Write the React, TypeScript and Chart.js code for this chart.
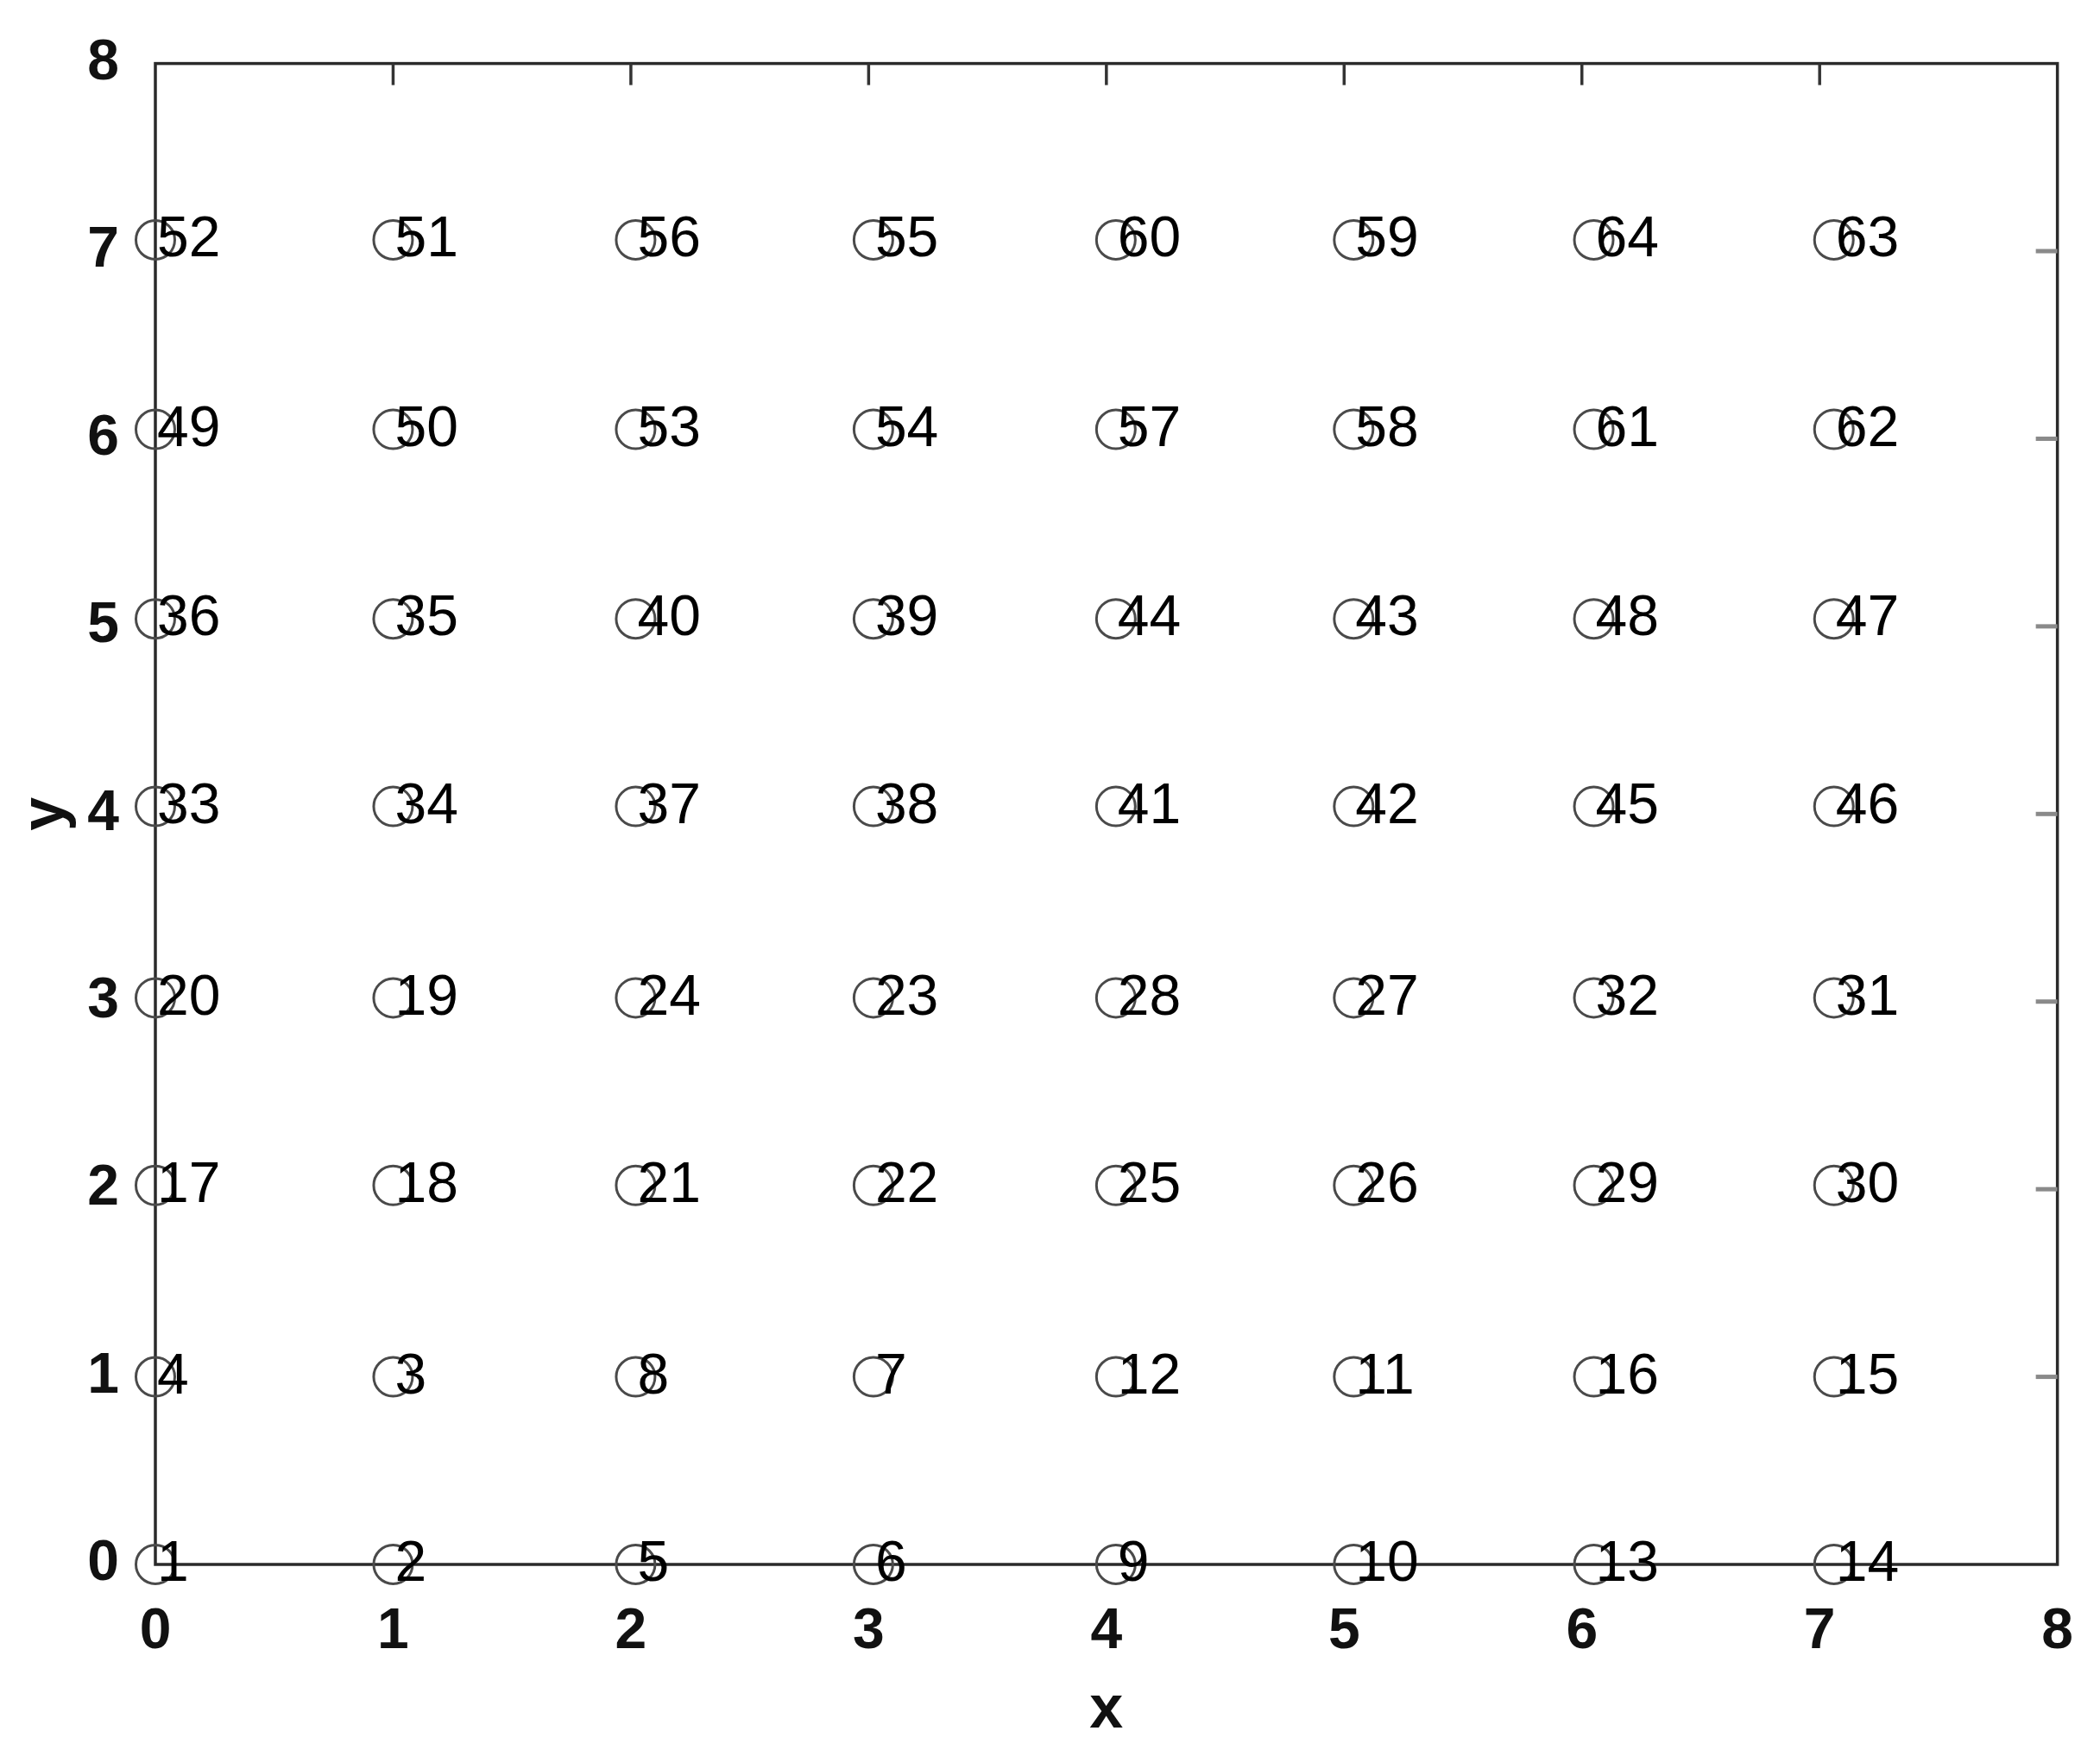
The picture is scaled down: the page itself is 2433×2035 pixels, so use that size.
import React, { useEffect, useRef } from 'react';
import { Chart, registerables } from 'chart.js';

Chart.register(...registerables);

// Column x positions and row y positions of the nodes
const colX = [0, 1, 2.02, 3.02, 4.04, 5.04, 6.05, 7.06];
const rowY = [0, 1, 2.02, 3.02, 4.04, 5.04, 6.05, 7.06];

// Node numbers, bottom row first, left to right
const nodeRow0 = [1, 2, 5, 6, 9, 10, 13, 14];
const nodeRow1 = [4, 3, 8, 7, 12, 11, 16, 15];
const nodeRow2 = [17, 18, 21, 22, 25, 26, 29, 30];
const nodeRow3 = [20, 19, 24, 23, 28, 27, 32, 31];
const nodeRow4 = [33, 34, 37, 38, 41, 42, 45, 46];
const nodeRow5 = [36, 35, 40, 39, 44, 43, 48, 47];
const nodeRow6 = [49, 50, 53, 54, 57, 58, 61, 62];
const nodeRow7 = [52, 51, 56, 55, 60, 59, 64, 63];
const nodeRows = [nodeRow0, nodeRow1, nodeRow2, nodeRow3, nodeRow4, nodeRow5, nodeRow6, nodeRow7];

const axisMin = 0;
const axisMax = 8;
const innerTicks = [1, 2, 3, 4, 5, 6, 7];

const xTitle = 'x';
const yTitle = 'y';

const W = 2433;
const H = 2035;

export default function App() {
  const ref = useRef<HTMLCanvasElement | null>(null);

  useEffect(() => {
    if (!ref.current) return;
    const points: { x: number; y: number; label: string }[] = [];
    nodeRows.forEach((row, ri) => {
      row.forEach((id, ci) => {
        points.push({ x: colX[ci], y: rowY[ri], label: String(id) });
      });
    });

    const framePlugin = {
      id: 'frameBox',
      beforeDatasetsDraw(chart: any) {
        const { ctx, chartArea: a, scales } = chart;
        ctx.save();
        ctx.strokeStyle = '#2a2a2a';
        ctx.lineWidth = 3.5;
        ctx.strokeRect(a.left, a.top, a.right - a.left, a.bottom - a.top);
        // top inward ticks
        ctx.lineWidth = 3.5;
        ctx.strokeStyle = '#333333';
        innerTicks.forEach((t) => {
          const px = scales.x.getPixelForValue(t);
          ctx.beginPath();
          ctx.moveTo(px, a.top);
          ctx.lineTo(px, a.top + 25);
          ctx.stroke();
        });
        // right inward ticks
        ctx.strokeStyle = '#8a8a8a';
        ctx.lineWidth = 5;
        innerTicks.forEach((t) => {
          const py = scales.y.getPixelForValue(t);
          ctx.beginPath();
          ctx.moveTo(a.right, py);
          ctx.lineTo(a.right - 25, py);
          ctx.stroke();
        });
        ctx.restore();
      },
      afterDatasetsDraw(chart: any) {
        const { ctx, scales } = chart;
        ctx.save();
        ctx.fillStyle = '#000000';
        ctx.font = '66px "Liberation Sans", Arial, sans-serif';
        ctx.textAlign = 'left';
        ctx.textBaseline = 'middle';
        points.forEach((p) => {
          const px = scales.x.getPixelForValue(p.x);
          const py = scales.y.getPixelForValue(p.y);
          ctx.fillText(p.label, px + 2, py + 1);
        });
        ctx.restore();
      },
    };

    const chart = new Chart(ref.current, {
      type: 'scatter',
      data: {
        datasets: [
          {
            data: points.map((p) => ({ x: p.x, y: p.y })),
            pointStyle: 'circle',
            pointRadius: 22.5,
            pointBorderWidth: 3,
            pointBorderColor: '#4a4a4a',
            pointBackgroundColor: 'rgba(0,0,0,0)',
            clip: false as any,
          } as any,
        ],
      },
      options: {
        animation: false,
        responsive: true,
        maintainAspectRatio: false,
        events: [],
        layout: { padding: { left: 0, right: 45, top: 71, bottom: 0 } },
        plugins: {
          legend: { display: false },
          tooltip: { enabled: false },
        },
        scales: {
          x: {
            type: 'linear',
            min: axisMin,
            max: axisMax,
            grid: { display: false },
            border: { display: false },
            ticks: {
              stepSize: 1,
              color: '#111111',
              padding: 31,
              font: { family: '"Liberation Sans", Arial, sans-serif', size: 66, weight: 'bold' },
            },
            title: {
              display: true,
              text: xTitle,
              color: '#111111',
              padding: { top: 0, bottom: 10 },
              font: { family: '"Liberation Sans", Arial, sans-serif', size: 70, weight: 'bold' },
            },
            afterFit(scale: any) {
              scale.height = 222;
            },
          },
          y: {
            type: 'linear',
            min: axisMin,
            max: axisMax,
            grid: { display: false },
            border: { display: false },
            ticks: {
              stepSize: 1,
              color: '#111111',
              padding: 34,
              font: { family: '"Liberation Sans", Arial, sans-serif', size: 66, weight: 'bold' },
            },
            title: {
              display: true,
              text: yTitle,
              color: '#111111',
              padding: { top: 12, bottom: 0 },
              font: { family: '"Liberation Sans", Arial, sans-serif', size: 70, weight: 'bold' },
            },
            afterFit(scale: any) {
              scale.width = 180;
            },
          },
        },
      },
      plugins: [framePlugin],
    } as any);

    return () => {
      chart.destroy();
    };
  }, []);

  return (
    <div style={{ position: 'fixed', left: 0, top: 0, width: W, height: H, background: '#ffffff' }}>
      <canvas ref={ref} />
    </div>
  );
}
